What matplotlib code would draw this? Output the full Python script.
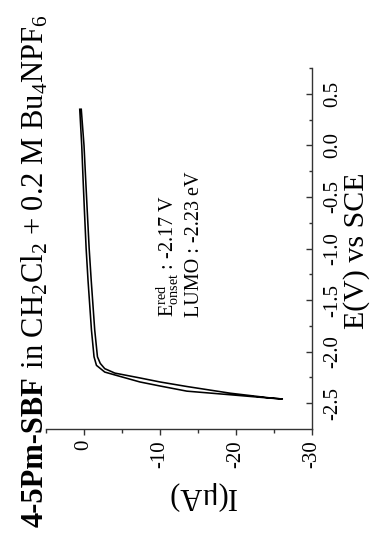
import matplotlib
matplotlib.use('Agg')
import matplotlib.pyplot as plt
from matplotlib.ticker import FixedLocator, FixedFormatter

plt.rcParams['font.family'] = ['Liberation Serif', 'DejaVu Serif']
plt.rcParams['mathtext.fontset'] = 'custom'
plt.rcParams['mathtext.rm'] = 'Liberation Serif'
plt.rcParams['mathtext.it'] = 'Liberation Serif:italic'
plt.rcParams['mathtext.bf'] = 'Liberation Serif:bold'
plt.rcParams['axes.unicode_minus'] = False

# ---- data (E in V vs SCE, I in microampere) ----
E_fwd = [0.35, 0.0, -0.33, -0.625, -1.0, -1.31, -1.79, -2.05, -2.114, -2.165,
         -2.208, -2.255, -2.294, -2.338, -2.403, -2.449, -2.459]
I_fwd = [0.36, 0.0, -0.22, -0.42, -0.68, -0.95, -1.41, -1.77, -2.14, -2.73,
         -4.06, -7.36, -10.0, -13.53, -19.25, -24.53, -26.1]
E_rev = [0.35, 0.0, -0.33, -0.625, -1.0, -1.31, -1.79, -2.05, -2.133, -2.198,
         -2.226, -2.294, -2.333, -2.383, -2.418, -2.451, -2.459]
I_rev = [0.56, 0.30, 0.12, -0.05, -0.28, -0.53, -0.98, -1.32, -1.64, -2.73,
         -4.06, -7.36, -10.0, -13.53, -19.25, -24.53, -26.1]

E_major = [0.5, 0.0, -0.5, -1.0, -1.5, -2.0, -2.5]
E_minor = [0.75, 0.25, -0.25, -0.75, -1.25, -1.75, -2.25]
E_labels = ['0.5', '0.0', '-0.5', '-1.0', '-1.5', '-2.0', '-2.5']
I_major = [0, -10, -20, -30]
I_minor = [5, -5, -15, -25]
I_labels = ['0', '-10', '-20', '-30']

title_bold = "4-5Pm-SBF"
title_rest = " in CH$_2$Cl$_2$ + 0.2 M Bu$_4$NPF$_6$"
annot1 = r"E$_{\mathrm{onset}}^{\mathrm{red}}$ : -2.17 V"
annot2 = "LUMO : -2.23 eV"

W, H = 371, 533
fig = plt.figure(figsize=(W / 100, H / 100), dpi=100)
ax = fig.add_axes([46 / W, 1 - 429 / H, (312 - 46) / W, (429 - 68) / H])

# rotated layout: horizontal = current, vertical = potential
# one closed sweep: forward scan then the return scan
ax.plot(I_fwd + I_rev[::-1], E_fwd + E_rev[::-1], color='black', lw=1.15,
        solid_joinstyle='round')
ax.set_xlim(5, -30)
ax.set_ylim(-2.75, 0.75)

for s in ['top', 'left']:
    ax.spines[s].set_visible(False)
for s in ['bottom', 'right']:
    ax.spines[s].set_linewidth(1.0)
    ax.spines[s].set_color('#333333')

ax.yaxis.tick_right()
ax.yaxis.set_major_locator(FixedLocator(E_major))
ax.yaxis.set_major_formatter(FixedFormatter(E_labels))
ax.yaxis.set_minor_locator(FixedLocator(E_minor))
ax.xaxis.set_major_locator(FixedLocator(I_major))
ax.xaxis.set_major_formatter(FixedFormatter(I_labels))
ax.xaxis.set_minor_locator(FixedLocator(I_minor))

ax.tick_params(axis='y', which='major', direction='in', length=4, width=1.0,
               labelsize=15, pad=8, labelrotation=90, color='#333333')
ax.tick_params(axis='y', which='minor', direction='in', length=2.5, width=1.0,
               color='#333333')
ax.tick_params(axis='x', which='major', direction='out', length=4, width=1.0,
               labelsize=15, pad=4, labelrotation=90, color='#333333')
ax.tick_params(axis='x', which='minor', direction='out', length=3, width=1.0,
               color='#333333')
for lab in ax.get_yticklabels():
    lab.set_va('center')
    lab.set_ha('left')

# axis labels
fig.text(201 / W, 1 - 496 / H, "I(\u03bcA)", rotation=180, ha='center',
         va='center', fontsize=22)
fig.text(364 / W, 1 - 251 / H, "E(V) vs SCE", rotation=90,
         rotation_mode='anchor', ha='center', va='baseline', fontsize=21.5)

# annotation
ax.text(-11.8, -1.666, annot1, rotation=90, rotation_mode='anchor',
        ha='left', va='baseline', fontsize=14.5)
ax.text(-15.1, -1.666, annot2, rotation=90, rotation_mode='anchor',
        ha='left', va='baseline', fontsize=14.5)

# title (bold part + regular part)
t1 = fig.text(43 / W, 1 - 527 / H, title_bold, rotation=90,
              rotation_mode='anchor', ha='left', va='baseline',
              fontsize=22, fontweight='bold')
fig.canvas.draw()
bb = t1.get_window_extent(renderer=fig.canvas.get_renderer())
fig.text(43 / W, bb.y1 / H, title_rest, rotation=90,
         rotation_mode='anchor', ha='left', va='baseline', fontsize=22)

fig.savefig('out.png', dpi=100)
